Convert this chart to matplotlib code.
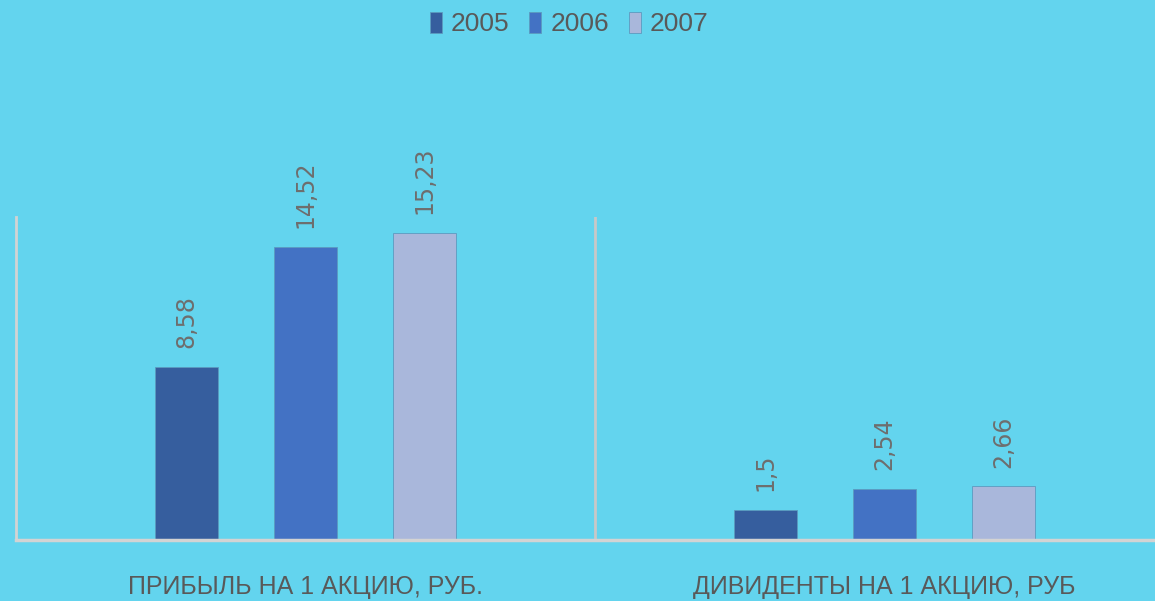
import numpy as np
import matplotlib.pyplot as plt

# данные
categories = ['ПРИБЫЛЬ НА 1 АКЦИЮ, РУБ.', 'ДИВИДЕНТЫ НА 1 АКЦИЮ, РУБ']
years = ['2005', '2006', '2007']
values_2005 = [8.58, 1.5]
values_2006 = [14.52, 2.54]
values_2007 = [15.23, 2.66]
value_labels = [['8,58', '1,5'], ['14,52', '2,54'], ['15,23', '2,66']]

colors = ['#365E9E', '#4372C4', '#A9B7DB']
bg = '#63D4EE'
font = ['Liberation Sans', 'DejaVu Sans']

fig = plt.figure(figsize=(11.55, 6.01), dpi=100, facecolor=bg)
ax = fig.add_axes([16 / 1155, 1 - 540 / 601, (1174 - 16) / 1155, (540 - 217) / 601])
ax.set_facecolor(bg)

x = np.arange(len(categories))
width = 0.109
step = 0.2055
series = [values_2005, values_2006, values_2007]
for i, vals in enumerate(series):
    pos = x + (i - 1) * step
    bars = ax.bar(pos, vals, width, color=colors[i], edgecolor='#5B9BBF',
                  linewidth=0.6, label=years[i], zorder=2)
    for b, txt in zip(bars, value_labels[i]):
        ax.annotate(txt, (b.get_x() + b.get_width() / 2, b.get_height()),
                    xytext=(0, 13.5), textcoords='offset points',
                    rotation=90, ha='center', va='bottom',
                    fontsize=17, color='#6E6E6E', family='DejaVu Sans')

ax.set_xlim(-0.5, 1.5)
ax.set_ylim(0, 16)

# оси и разделитель
for s in ['top', 'right']:
    ax.spines[s].set_visible(False)
ax.spines['bottom'].set_color('#D3D3D3')
ax.spines['bottom'].set_linewidth(2.5)
ax.spines['bottom'].set_zorder(3)
ax.spines['left'].set_color('#D3D3D3')
ax.spines['left'].set_linewidth(2)
ax.axvline(0.5, color='#C8C8C8', linewidth=2, zorder=1)

ax.set_yticks([])
ax.set_xticks(x)
ax.set_xticklabels(categories, fontsize=18, color='#595959', family=font)
ax.tick_params(axis='x', length=0, pad=25)

leg = fig.legend(loc='center', bbox_to_anchor=(0.493, 0.96), ncol=3,
                 frameon=False, handlelength=0.45, handleheight=0.85,
                 handletextpad=0.35, columnspacing=0.75,
                 prop={'family': font, 'size': 19})
for t in leg.get_texts():
    t.set_color('#595959')

fig.savefig('out.png', dpi=100, facecolor=bg)
